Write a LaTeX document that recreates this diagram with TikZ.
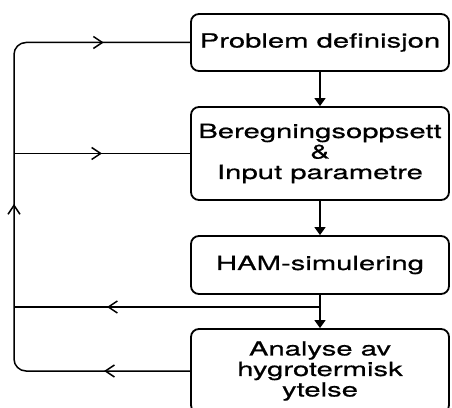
\documentclass[tikz,border=0pt]{standalone}
\usepackage{fontspec}
\setmainfont{TeX Gyre Heros}[FakeStretch=1.5,FakeBold=0.6]
\usetikzlibrary{arrows.meta,decorations.markings}
\tikzset{barb/.tip={Straight Barb[length=9pt,width=12pt,line width=1.5pt]}}
\begin{document}
\begin{tikzpicture}[x=1pt,y=1pt,
  stepbox/.style={draw, line width=1.8pt, rounded corners=8pt, minimum width=258pt,
    inner sep=0pt, align=center, font=\fontsize{19.5}{20.5}\selectfont},
  flow/.style={line width=1.5pt, -{Triangle[length=8pt,width=11pt]}},
  fb/.style={line width=1.5pt}
]
\useasboundingbox (0,0) rectangle (452,407);
\node[stepbox, minimum height=57pt] (b1) at (320,364.5) {Problem definisjon};
\node[stepbox, minimum height=93pt] (b2) at (320,253.5) {Beregningsoppsett\\\&\\Input parametre};
\node[stepbox, minimum height=58pt] (b3) at (320,142) {HAM-simulering};
\node[stepbox, minimum height=84pt] (b4) at (320,36) {Analyse av\\hygrotermisk\\ytelse};
\coordinate (lx) at (14,0);
\coordinate (j) at (320,100);
\draw[flow] (b1.south) -- (b2.north);
\draw[flow] (b2.south) -- (b3.north);
\draw[flow] (b3.south) -- (b4.north);
\draw[fb, rounded corners=12pt, postaction={decorate, decoration={markings,
    mark=at position 86pt with {\arrow{barb}},
    mark=at position 338pt with {\arrow{barb}},
    mark=at position 584pt with {\arrow{barb}}}}]
  (b4.west) -- (lx |- b4.west) -- (lx |- b1.west) -- (b1.west);
\draw[fb, postaction={decorate, decoration={markings,
    mark=at position 88pt with {\arrow{barb}}}}]
  (lx |- b2.west) -- (b2.west);
\draw[fb, postaction={decorate, decoration={markings,
    mark=at position 213pt with {\arrow{barb}}}}]
  (j) -- (lx |- j);
\end{tikzpicture}
\end{document}
